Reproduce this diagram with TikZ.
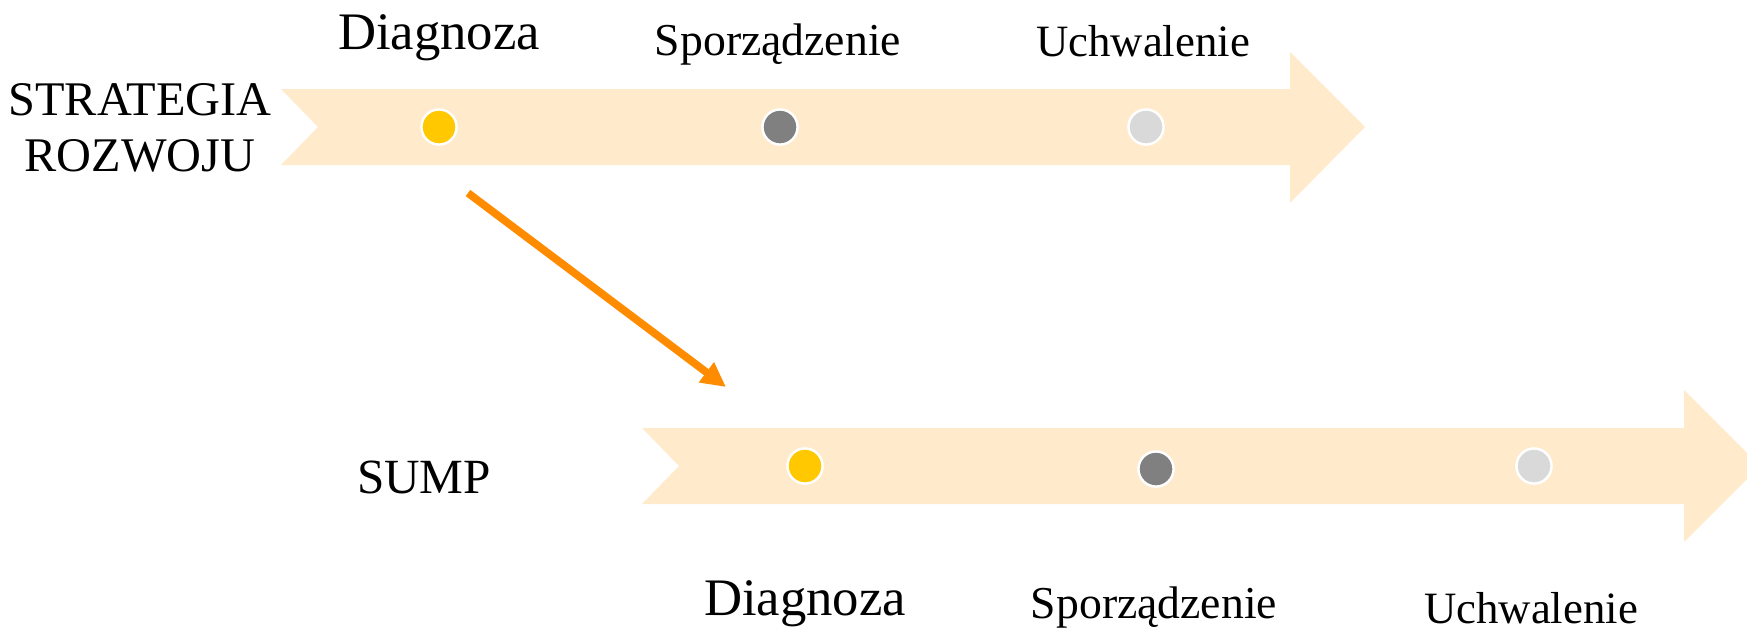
\documentclass[tikz,border=0pt]{standalone}
\usepackage{fontspec}
\setmainfont{Liberation Serif}
\usetikzlibrary{arrows.meta}

\definecolor{bandfill}{RGB}{255,234,204}
\definecolor{dotyellow}{RGB}{255,200,0}
\definecolor{dotgray}{RGB}{128,128,128}
\definecolor{dotlight}{RGB}{217,217,217}
\definecolor{arrorange}{RGB}{255,140,0}

\begin{document}
\begin{tikzpicture}[
  x=0.02cm,y=-0.02cm,
  band/.style={fill=bandfill,draw=none},
  dot/.style={circle,draw=white,line width=1.4pt,minimum size=20pt,inner sep=0pt},
  lbl/.style={anchor=base,inner sep=0pt},
  big/.style={font=\fontsize{30}{36}\selectfont},
  mid/.style={font=\fontsize{26}{31}\selectfont},
  arr/.style={-{Triangle[length=14pt,width=13.5pt]},line width=4.4pt,draw=arrorange}
]
\useasboundingbox (0,0) rectangle (1747,627);
\begin{scope}
\clip (0,0) rectangle (1747,627);
% strategy band
\fill[band] (281,89) -- (1290,89) -- (1290,52) -- (1365,127) -- (1290,203) -- (1290,165) -- (281,165) -- (318,127) -- cycle;
% SUMP band
\fill[band] (642,428) -- (1684,428) -- (1684,390) -- (1760,466) -- (1684,542) -- (1684,504) -- (642,504) -- (679,466) -- cycle;
\end{scope}
% stage dots
\node[dot,fill=dotyellow] (sdiag) at (439,127) {};
\node[dot,fill=dotgray] (sspor) at (780,127) {};
\node[dot,fill=dotlight] (suchw) at (1146,127) {};
\node[dot,fill=dotyellow] (pdiag) at (805,466) {};
\node[dot,fill=dotgray] (pspor) at (1156,469) {};
\node[dot,fill=dotlight] (puchw) at (1534,466) {};
% labels
\node[align=center,inner sep=0pt,font=\fontsize{27.5}{32}\selectfont] (strat) at (140,128) {STRATEGIA\\ROZWOJU};
\node[lbl,font=\fontsize{28}{33}\selectfont] (sump) at (424,493) {SUMP};
\node[lbl,big] (sdiaglbl) at (439,49) {Diagnoza};
\node[lbl,mid] (ssporlbl) at (778,55) {Sporządzenie};
\node[lbl,font=\fontsize{25.5}{30}\selectfont] (suchwlbl) at (1143,56) {Uchwalenie};
\node[lbl,big] (pdiaglbl) at (805,615) {Diagnoza};
\node[lbl,mid] (pspor lbl) at (1154,618) {Sporządzenie};
\node[lbl,font=\fontsize{25.5}{30}\selectfont] (puchwlbl) at (1531,623) {Uchwalenie};
% transfer arrow
\coordinate (from) at (468,193);
\coordinate (to) at (726,387);
\draw[arr] (from) -- (to);
\end{tikzpicture}
\end{document}
